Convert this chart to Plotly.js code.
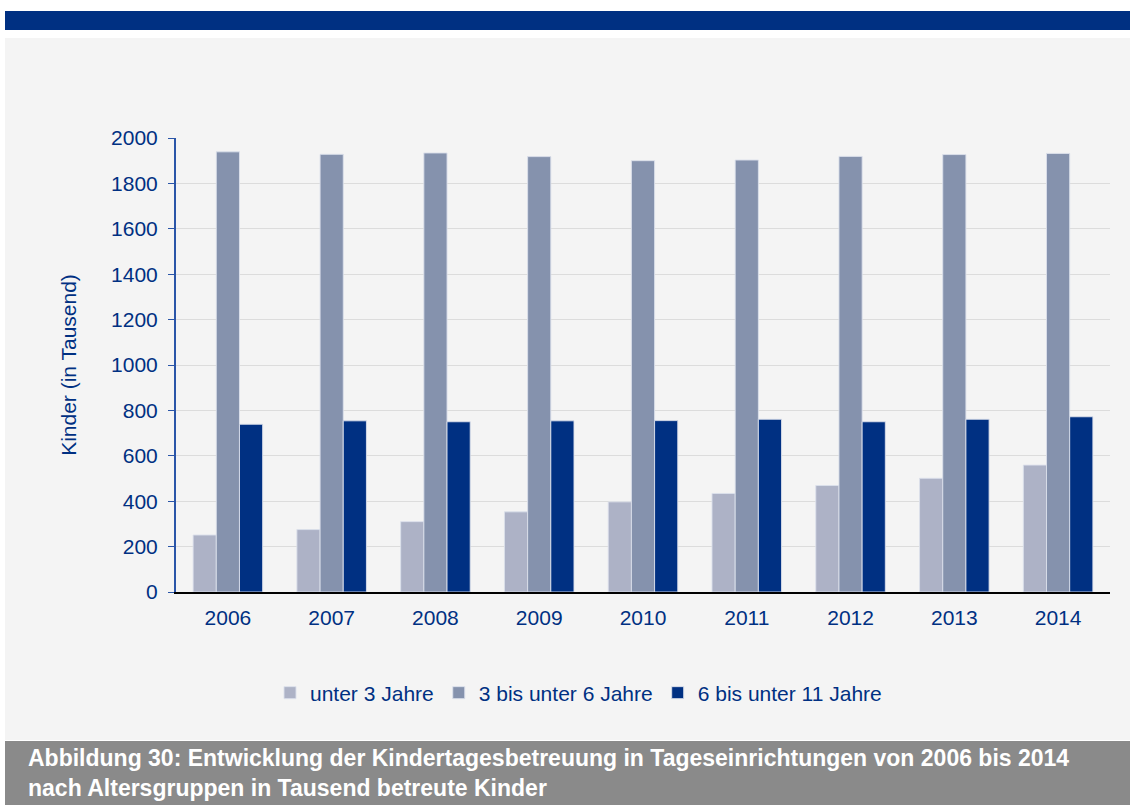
<!DOCTYPE html>
<html>
<head>
<meta charset="utf-8">
<script src="https://cdn.plot.ly/plotly-3.0.1.min.js"></script>
<style>html,body{margin:0;padding:0;background:#fff;}#chart{width:1130px;height:805px;}</style>
</head>
<body>
<div id="chart"></div>
<script>
var years = ["2006","2007","2008","2009","2010","2011","2012","2013","2014"];
var unter3 = [251, 275, 310, 353, 397, 434, 469, 501, 559];
var von3bis6 = [1939, 1928, 1934, 1918, 1900, 1903, 1919, 1927, 1932];
var von6bis11 = [739, 754, 750, 754, 755, 761, 750, 761, 772];
var seriesNames = ["unter 3 Jahre", "3 bis unter 6 Jahre", "6 bis unter 11 Jahre"];
var yTicks = [0, 200, 400, 600, 800, 1000, 1200, 1400, 1600, 1800, 2000];
var captionText = "Abbildung 30: Entwicklung der Kindertagesbetreuung in Tageseinrichtungen von 2006 bis 2014<br>nach Altersgruppen in Tausend betreute Kinder";

var colors = ["#adb2c6", "#8592ad", "#003082"];
var blue = "#003082";
var font = "Liberation Sans, Arial, sans-serif";

var W = 1130, H = 805;
var L = 176, R = 20, T = 138, B = 213;
var pw = W - L - R, ph = H - T - B;
function px(x){ return (x - L) / pw; }
function py(y){ return (H - B - y) / ph; }

var data = [unter3, von3bis6, von6bis11].map(function(vals, i){
  return {
    type: "bar", x: years, y: vals, name: seriesNames[i],
    marker: {color: colors[i], line: {color: "rgba(220,224,235,0.9)", width: 1}},
    hoverinfo: "x+y+name"
  };
});

var layout = {
  width: W, height: H,
  margin: {l: L, r: R, t: T, b: B, pad: 0},
  paper_bgcolor: "#ffffff",
  plot_bgcolor: "rgba(0,0,0,0)",
  barmode: "group",
  bargap: 0.33,
  bargroupgap: 0,
  font: {family: font, color: blue, size: 20},
  xaxis: {
    type: "category",
    showline: true, linecolor: "#000000", linewidth: 2,
    ticks: "", tickfont: {family: font, size: 21, color: blue},
    ticklabelstandoff: 6,
    showgrid: false, zeroline: false
  },
  yaxis: {
    range: [0, 2000], tickvals: yTicks, ticktext: yTicks.map(String),
    showline: true, linecolor: "#2a55a8", linewidth: 2,
    ticks: "outside", ticklen: 6, tickcolor: "#2a55a8", tickwidth: 1,
    tickfont: {family: font, size: 21, color: blue},
    ticklabelstandoff: 6,
    showgrid: true, gridcolor: "#dcdcdc", gridwidth: 1, zeroline: false,
    title: {text: "Kinder (in Tausend)", font: {family: font, size: 21, color: blue}, standoff: 29}
  },
  legend: {
    orientation: "h", x: px(270), xanchor: "left", y: py(693), yanchor: "middle",
    font: {family: font, size: 21, color: blue}, bgcolor: "rgba(0,0,0,0)",
    itemwidth: 30, traceorder: "normal"
  },
  shapes: [
    {type: "rect", xref: "paper", yref: "paper", x0: px(5), x1: px(1130), y0: py(30), y1: py(11),
     fillcolor: "#003082", line: {width: 0}, layer: "below"},
    {type: "rect", xref: "paper", yref: "paper", x0: px(5), x1: px(1130), y0: py(740), y1: py(38),
     fillcolor: "#f4f4f4", line: {width: 0}, layer: "below"},
    {type: "rect", xref: "paper", yref: "paper", x0: px(5), x1: px(1130), y0: py(805), y1: py(741),
     fillcolor: "#8a8a8a", line: {width: 0}, layer: "below"}
  ],
  annotations: [
    {xref: "paper", yref: "paper", x: px(26), y: py(773), xanchor: "left", yanchor: "middle",
     align: "left", showarrow: false, text: "<b>" + captionText + "</b>",
     font: {family: font, size: 23, color: "#ffffff"}}
  ]
};

Plotly.newPlot("chart", data, layout, {displayModeBar: false, staticPlot: true});
</script>
</body>
</html>
